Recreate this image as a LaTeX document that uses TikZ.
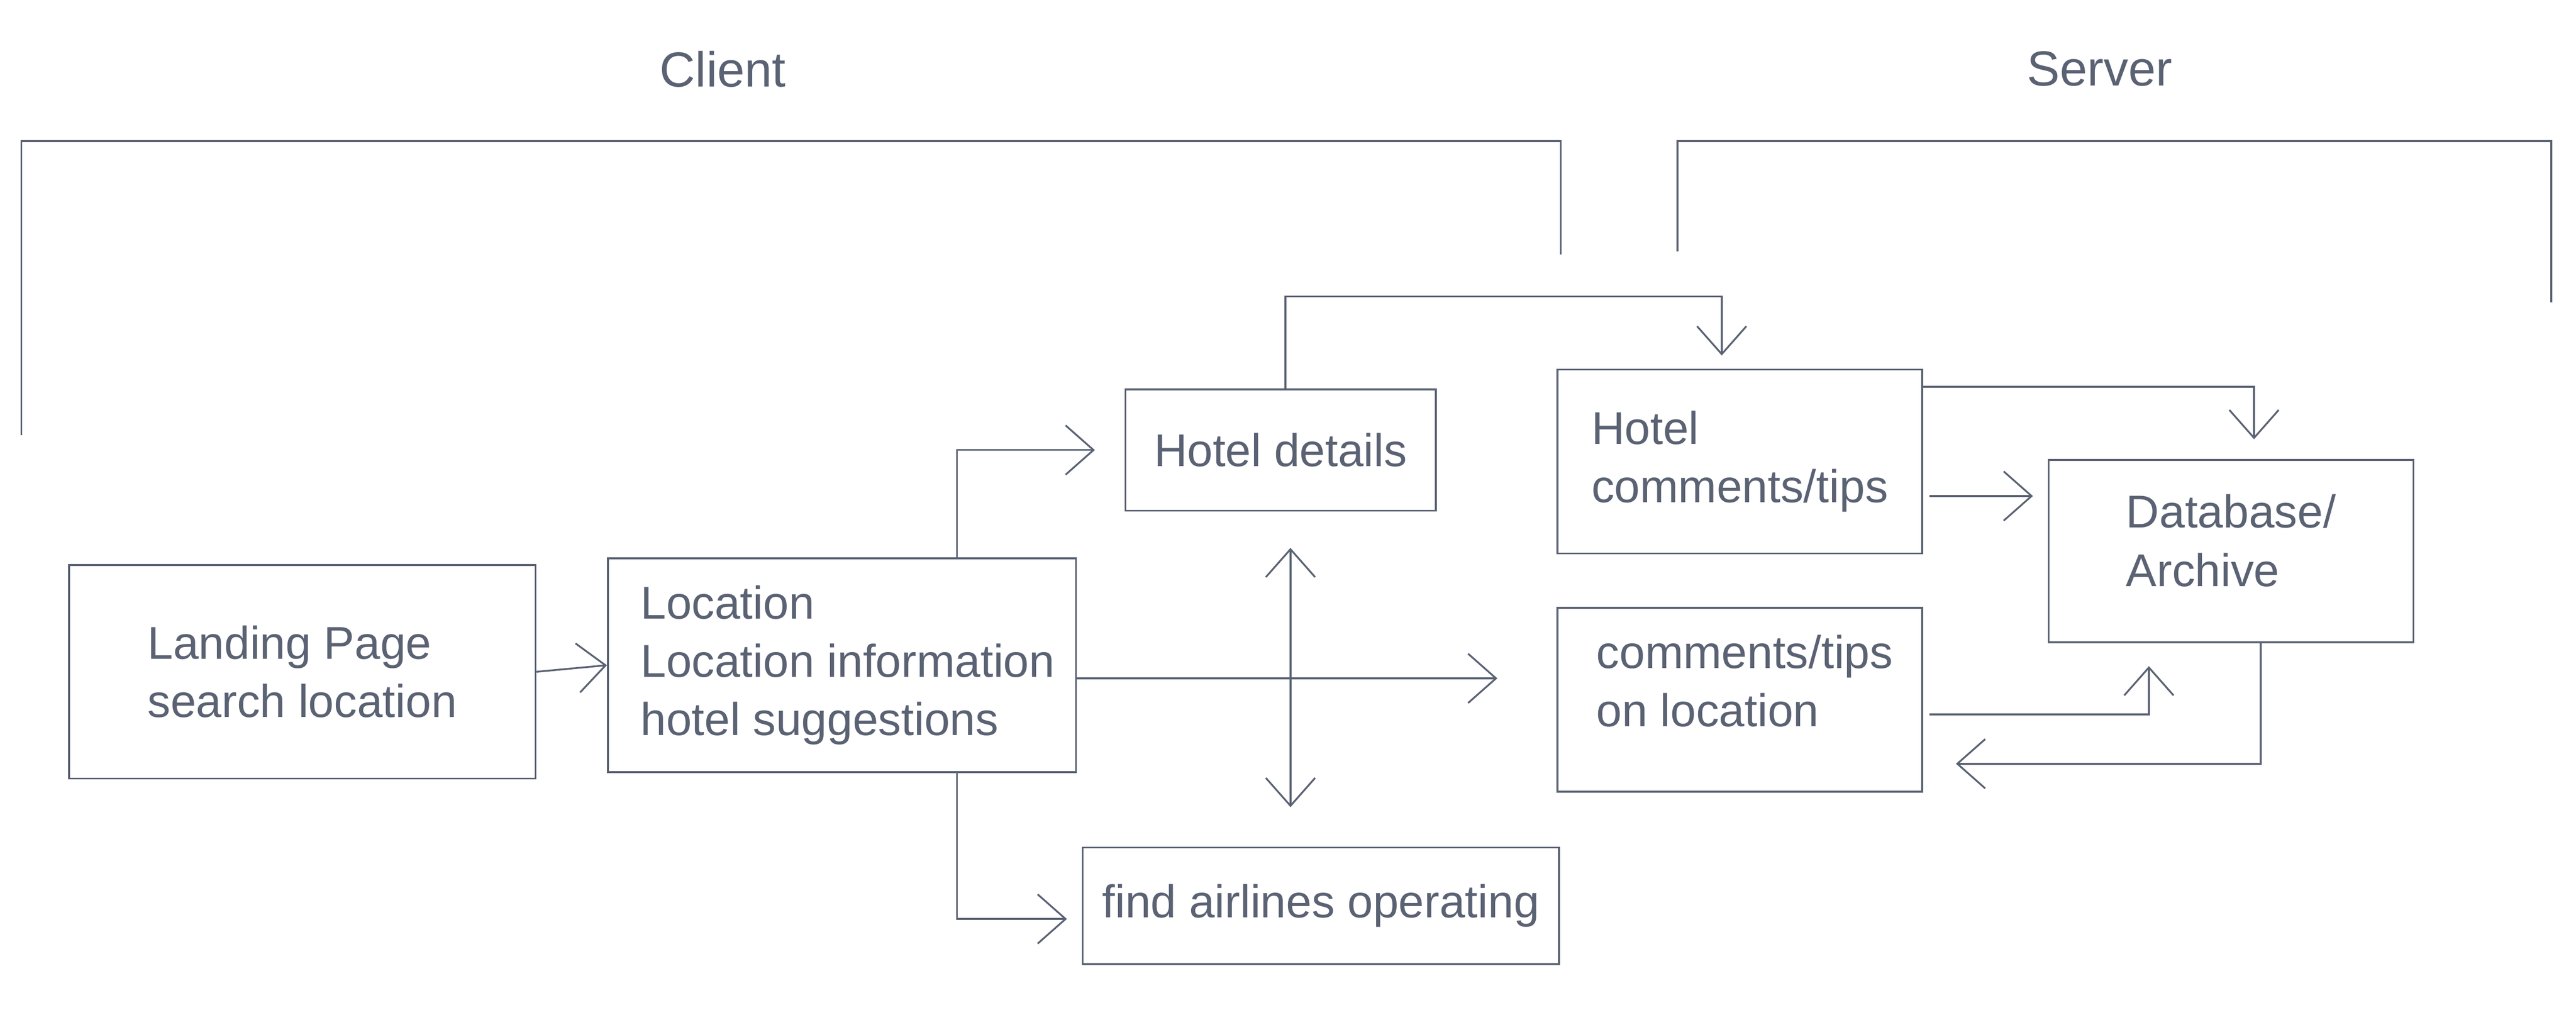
\documentclass[tikz,border=0pt]{standalone}
\usepackage{fontspec}
\setmainfont{Liberation Sans}
\usepackage{tikz}
\usetikzlibrary{arrows.meta,positioning}
\definecolor{ink}{RGB}{90,98,115}
\newcommand{\boxfont}{\fontsize{28}{35.5}\selectfont}
\newcommand{\headfont}{\fontsize{30}{36}\selectfont}

\begin{document}
\begin{tikzpicture}[x=1pt,y=-1pt,
  line width=1.1pt, draw=ink, text=ink,
  >={Straight Barb[length=17pt,width=30pt]},
  box/.style={draw, align=left, font=\boxfont, inner sep=0pt},
  head/.style={font=\headfont, inner sep=0pt}]
\useasboundingbox (0,0) rectangle (1568,624);

% titles and brackets
\node[head] (client) at (440,42) {Client};
\node[head] (server) at (1278,42) {Server};
\draw (13,265) |- (950,86) -- (950,155);
\draw (1021,153) |- (1553,86) -- (1553,184);

% boxes
\node[box, minimum width=284pt, minimum height=130pt] (land) at (184,409) {Landing Page\\search location};
\node[box, minimum width=285pt, minimum height=130pt] (loc) at (512.5,405) {\hspace{7pt}Location\\\hspace{7pt}Location information\\\hspace{7pt}hotel suggestions};
\node[box, minimum width=189pt, minimum height=74pt] (hd) at (779.5,274) {Hotel details};
\node[box, minimum width=222pt, minimum height=112pt] (hc) at (1059,281) {Hotel\\comments/tips};
\node[box, minimum width=222pt, minimum height=112pt] (col) at (1059,426) {\hspace{6pt}comments/tips\\\hspace{6pt}on location\\[-12.5pt]};
\node[box, minimum width=222pt, minimum height=111pt] (db) at (1358,335.5) {Database/\\Archive\\[-22.5pt]};
\node[box, minimum width=290pt, minimum height=71pt] (air) at (804,551.5) {find airlines operating};

% connectors
\draw[->] (land.east) -- (loc.west);
\draw[->, shorten >=18pt] ([xshift=70pt]loc.north) |- (hd.west);
\draw[->, shorten >=9pt] ([xshift=70pt]loc.south) |- ([yshift=-8pt]air.west);
\draw[->, shorten >=36pt] ([yshift=-8pt]loc.east) -- ([yshift=-8pt]loc.east -| col.west);
\draw[<->, shorten <=22pt, shorten >=24pt] ([xshift=6pt]hd.south) -- ([xshift=6pt]hd.south |- air.north);
\draw[->] ([xshift=3pt]hd.north) -- ++(0,-56) -| ([xshift=-11pt,yshift=8pt]hc.north);
\draw[->] ([yshift=-11pt]hc.north east) -| ([xshift=14pt,yshift=12pt]db.north);
\draw[->, shorten <=4pt, shorten >=9pt] ([yshift=-21pt]hc.east) -- ([yshift=-21pt]hc.east -| db.west);
\draw[->, shorten <=4pt, shorten >=14pt] ([yshift=-9pt]col.east) -| ([xshift=-50pt]db.south);
\draw[->, shorten >=20pt] ([xshift=18pt]db.south) |- ([yshift=-39pt]col.east);
\end{tikzpicture}
\end{document}
